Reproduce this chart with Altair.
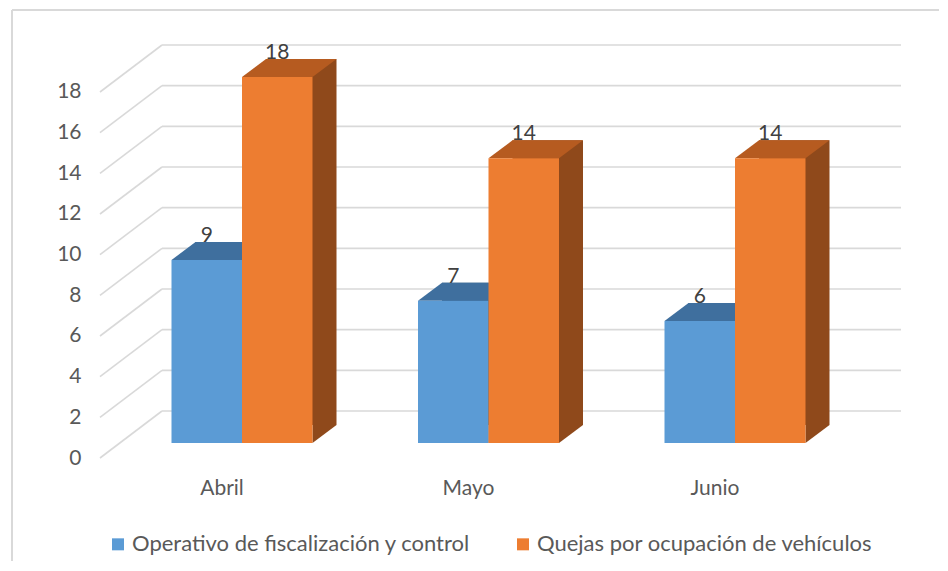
import altair as alt
import pandas as pd

meses = ["Abril", "Mayo", "Junio"]
series = ["Operativo de fiscalización y control", "Quejas por ocupación de vehículos"]
operativo = [9, 7, 6]
quejas = [18, 14, 14]
y_ticks = [0, 2, 4, 6, 8, 10, 12, 14, 16, 18]

front_colors = ["#5B9BD5", "#ED7D31"]
top_colors = ["#3F6F9E", "#B65B20"]
side_colors = ["#2F5579", "#8F491B"]

FONT = "Lato"
FS = 21

rows = []
for i, m in enumerate(meses):
    rows.append({"mes": m, "serie": series[0], "valor": operativo[i]})
    rows.append({"mes": m, "serie": series[1], "valor": quejas[i]})
df = pd.DataFrame(rows)
grid = pd.DataFrame({"v": y_ticks})
one = pd.DataFrame({"k": [0]})

W, H = 739.5, 406.67
BAR_W = 70.5
DX, DY = 24, 18          # bar depth in pixels
FRONT_OFF, BACK_OFF = 15, -32
HW = (BAR_W / 2) / 50
dx, dy = DX / 50, DY / 50
top_path = f"M {-HW} 0 L {HW} 0 L {HW+dx} {-dy} L {-HW+dx} {-dy} Z"
tri_path = f"M {HW} 0 L {HW+dx} {-dy} L {HW} {-dy} Z"

yscale = alt.Scale(domain=[0, 20], nice=False, zero=True)
yax = alt.Axis(title=None, values=y_ticks, domain=False, ticks=False,
               tickSize=0, grid=False, labelFontSize=FS, labelFont=FONT,
               labelColor="#595959", labelPadding=37.75, labelOffset=15)
xscale = alt.Scale(domain=meses, paddingInner=0.428, paddingOuter=0.214)
xax = alt.Axis(title=None, domain=False, ticks=False, tickSize=0,
               labelAngle=0, labelFontSize=FS, labelFont=FONT,
               labelColor="#595959", labelPadding=34, labelOffset=-20,
               grid=False)
xenc = alt.X("mes:N", sort=meses, scale=xscale, axis=xax)
xoff = alt.XOffset("serie:N", sort=series, scale=alt.Scale(paddingInner=0, paddingOuter=0))

grid_color = "#d9d9d9"

border_top = alt.Chart(one).mark_rule(color=grid_color, strokeWidth=2).encode(
    x=alt.value(-106.75), x2=alt.value(1000), y=alt.value(-26.33))
border_left = alt.Chart(one).mark_rule(color=grid_color, strokeWidth=2).encode(
    x=alt.value(-106.75), y=alt.value(-26.33), y2=alt.value(700))

diag = alt.Chart(grid).mark_rule(color=grid_color, strokeWidth=1.6,
                                 yOffset=FRONT_OFF, y2Offset=BACK_OFF).encode(
    x=alt.value(-18.75), x2=alt.value(43.25),
    y=alt.Y("v:Q", scale=yscale, axis=yax), y2="v:Q")
back = alt.Chart(grid).mark_rule(color=grid_color, strokeWidth=1.6, yOffset=BACK_OFF).encode(
    x=alt.value(43.25), x2=alt.value(782.25),
    y=alt.Y("v:Q", scale=yscale, axis=yax))

side_layers = []
for k, s in enumerate(series):
    shift = (-BAR_W / 2 if k == 0 else BAR_W / 2) + DX
    side_layers.append(
        alt.Chart(df).transform_filter(alt.datum.serie == s).mark_bar(
            width=BAR_W, xOffset=shift, yOffset=-DY, y2Offset=-DY,
            color=side_colors[k]).encode(
            x=xenc,
            y=alt.Y("valor:Q", scale=yscale, axis=yax))
    )

tri = alt.Chart(df).mark_point(shape=tri_path, size=10000, filled=True, opacity=1,
                               strokeWidth=0).encode(
    x=xenc, xOffset=xoff,
    y=alt.Y("z:Q", scale=yscale, axis=yax),
    color=alt.Color("serie:N", sort=series,
                    scale=alt.Scale(domain=series, range=side_colors), legend=None)
).transform_calculate(z="0")
top = alt.Chart(df).mark_point(shape=top_path, size=10000, filled=True, opacity=1,
                               strokeWidth=0).encode(
    x=xenc, xOffset=xoff,
    y=alt.Y("valor:Q", scale=yscale, axis=yax),
    color=alt.Color("serie:N", sort=series,
                    scale=alt.Scale(domain=series, range=top_colors), legend=None))
front = alt.Chart(df).mark_bar().encode(
    x=xenc, xOffset=xoff,
    y=alt.Y("valor:Q", scale=yscale, axis=yax),
    color=alt.Color("serie:N", sort=series,
                    scale=alt.Scale(domain=series, range=front_colors),
                    legend=alt.Legend(title=None, orient="none", legendX=-11.75, legendY=497,
                                      direction="horizontal", symbolType="square",
                                      symbolSize=144, symbolStrokeWidth=0,
                                      labelFontSize=22, labelFont=FONT,
                                      labelColor="#595959", labelLimit=0,
                                      columnPadding=41, labelOffset=3, padding=0)))
labels = alt.Chart(df).mark_text(dy=-24, baseline="middle", fontSize=FS, font=FONT,
                                 color="#404040").encode(
    x=xenc, xOffset=xoff,
    y=alt.Y("valor:Q", scale=yscale, axis=yax),
    text="valor:Q")

chart = alt.layer(border_top, border_left, diag, back, *side_layers, tri, top, front,
                  labels).resolve_scale(
    color="independent"
).properties(
    width=W, height=H,
    padding={"left": 110.75, "top": 28.33, "right": 81, "bottom": 118},
    autosize=alt.AutoSizeParams(type="none"),
    background="white",
).configure_view(stroke=None)

chart.save("out.html", embed_options={"renderer": "svg", "actions": False})
